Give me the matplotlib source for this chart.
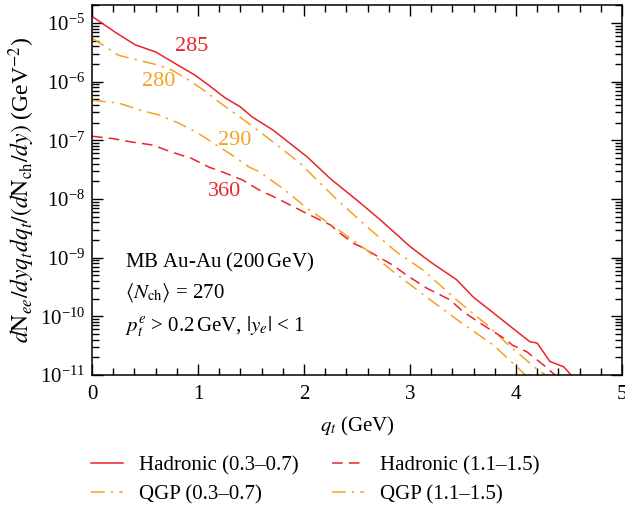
import numpy as np
import matplotlib
matplotlib.use("Agg")
import matplotlib.pyplot as plt
from matplotlib.ticker import MultipleLocator, LogLocator, NullFormatter

plt.rcParams['font.family'] = 'serif'
plt.rcParams['font.serif'] = ['Liberation Serif', 'DejaVu Serif']
plt.rcParams['mathtext.fontset'] = 'stix'
plt.rcParams['font.size'] = 15

# Hadronic (0.3-0.7), solid
q_had_lo = [0, 0.22, 0.41, 0.6, 0.79, 0.97, 1.10, 1.26, 1.40, 1.51, 1.71, 2.03, 2.25,
            2.50, 2.72, 3.0, 3.19, 3.44, 3.60, 3.75, 3.91, 4.13, 4.2, 4.32, 4.45, 4.55]
y_had_lo = [1.29e-5, 6.9e-6, 4.2e-6, 3.2e-6, 2.0e-6, 1.29e-6, 8.7e-7, 5.2e-7, 3.7e-7,
            2.5e-7, 1.48e-7, 5.2e-8, 2.2e-8, 9.5e-9, 4.4e-9, 1.55e-9, 8.5e-10, 4.2e-10,
            2.1e-10, 1.29e-10, 7.6e-11, 3.7e-11, 3.5e-11, 1.7e-11, 1.38e-11, 8.7e-12]

# Hadronic (1.1-1.5), dashed
q_had_hi = [0, 0.19, 0.38, 0.57, 0.75, 0.94, 1.10, 1.26, 1.42, 1.58, 1.71, 1.90, 2.03,
            2.15, 2.25, 2.34, 2.47, 2.53, 2.65, 2.84, 2.97, 3.16, 3.38, 3.50, 3.69, 3.88,
            3.97, 4.10, 4.26, 4.40]
y_had_hi = [1.17e-7, 1.07e-7, 9.3e-8, 8.3e-8, 6.3e-8, 4.9e-8, 3.5e-8, 2.75e-8, 2.1e-8,
            1.41e-8, 1.1e-8, 7.4e-9, 5.6e-9, 4.4e-9, 3.6e-9, 2.6e-9, 1.74e-9, 1.55e-9,
            1.17e-9, 7.4e-10, 5.0e-10, 3.0e-10, 1.9e-10, 1.2e-10, 7.1e-11, 4.3e-11,
            3.2e-11, 2.5e-11, 1.48e-11, 8.9e-12]

# QGP (0.3-0.7), dash-dot
q_qgp_lo = [0, 0.25, 0.44, 0.63, 0.75, 0.91, 1.07, 1.19, 1.32, 1.45, 1.71, 1.96, 2.28,
            2.59, 2.87, 3.13, 3.44, 3.75, 3.91, 4.19, 4.32]
y_qgp_lo = [5.5e-6, 2.8e-6, 2.3e-6, 1.9e-6, 1.58e-6, 1.07e-6, 6.8e-7, 4.6e-7, 3.1e-7,
            2.1e-7, 9.3e-8, 4.1e-8, 1.1e-8, 3.4e-9, 1.26e-9, 6.0e-10, 1.9e-10, 6.6e-11,
            3.5e-11, 1.29e-11, 8.9e-12]

# QGP (1.1-1.5), dash-dot
q_qgp_hi = [0, 0.25, 0.47, 0.63, 0.82, 1.0, 1.13, 1.32, 1.48, 1.58, 1.80, 2.03, 2.28,
            2.59, 2.85, 3.16, 3.47, 3.79, 4.12]
y_qgp_hi = [4.8e-7, 4.3e-7, 3.2e-7, 2.7e-7, 1.95e-7, 1.32e-7, 9.3e-8, 5.6e-8, 3.5e-8,
            2.9e-8, 1.51e-8, 6.9e-9, 3.4e-9, 1.35e-9, 5.6e-10, 2.1e-10, 8.1e-11, 3.2e-11,
            8.9e-12]

# temperature labels on curves
lab_txt = ['285', '280', '290', '360']
lab_q = [0.94, 0.63, 1.35, 1.255]
lab_y = [3.9e-6, 1.02e-6, 1.0e-7, 1.35e-8]

red = '#e8252b'
orange = '#f5a21f'

fig = plt.figure(figsize=(6.25, 5.08), dpi=100)
ax = fig.add_axes([0.1472, 0.2618, 0.848, 0.728])

ax.plot(q_had_lo, y_had_lo, color=red, lw=1.1, label='Hadronic (0.3–0.7)')
ax.plot(q_qgp_lo, y_qgp_lo, color=orange, lw=1.1, dashes=(9, 4, 1.5, 4),
        label='QGP (0.3–0.7)')
ax.plot(q_had_hi, y_had_hi, color=red, lw=1.1, dashes=(7, 4), label='Hadronic (1.1–1.5)')
ax.plot(q_qgp_hi, y_qgp_hi, color=orange, lw=1.1, dashes=(9, 4, 1.5, 4),
        label='QGP (1.1–1.5)')

ax.set_yscale('log')
ax.set_xlim(0, 5)
ax.set_ylim(1e-11, 2e-5)

cols = [red, orange, orange, red]
for t, x, y, c in zip(lab_txt, lab_q, lab_y, cols):
    ax.text(x, y, t, color=c, ha='center', va='center', fontsize=16)

ax.text(0.063, 0.305, 'MB Au-Au (200$\\,$GeV)', transform=ax.transAxes, va='center')
ax.text(0.063, 0.222, r'$\langle N_{\rm ch}\rangle$ = 270', transform=ax.transAxes, va='center')
ax.text(0.063, 0.13, r'$p_t^e$ > 0.2$\,$GeV, $|y_e|$ < 1', transform=ax.transAxes, va='center')

ax.xaxis.set_major_locator(MultipleLocator(1))
ax.xaxis.set_minor_locator(MultipleLocator(0.2))
ax.yaxis.set_major_locator(LogLocator(base=10, numticks=20))
ax.yaxis.set_minor_locator(LogLocator(base=10, subs=np.arange(2, 10), numticks=20))
ax.yaxis.set_minor_formatter(NullFormatter())
ax.tick_params(which='both', direction='in', top=True, right=True, width=1.0)
ax.tick_params(which='major', length=8)
ax.tick_params(which='minor', length=5)
ax.tick_params(axis='x', pad=7)
ax.tick_params(axis='y', pad=5)
for s in ax.spines.values():
    s.set_linewidth(1.1)

ax.set_xlabel(r'$q_t$ (GeV)', labelpad=8)
ax.set_ylabel(r'$d\mathrm{N}_{ee}/dyq_tdq_t/(d\mathrm{N}_{\rm ch}/dy)$ (GeV$^{-2}$)',
              fontsize=17, labelpad=2)

fig.legend(ncol=2, frameon=False, loc='center', bbox_to_anchor=(0.505, 0.055),
           handlelength=1.5, handletextpad=0.8, columnspacing=1.6, labelspacing=0.45,
           fontsize=15)

fig.savefig('out.png', dpi=100)
